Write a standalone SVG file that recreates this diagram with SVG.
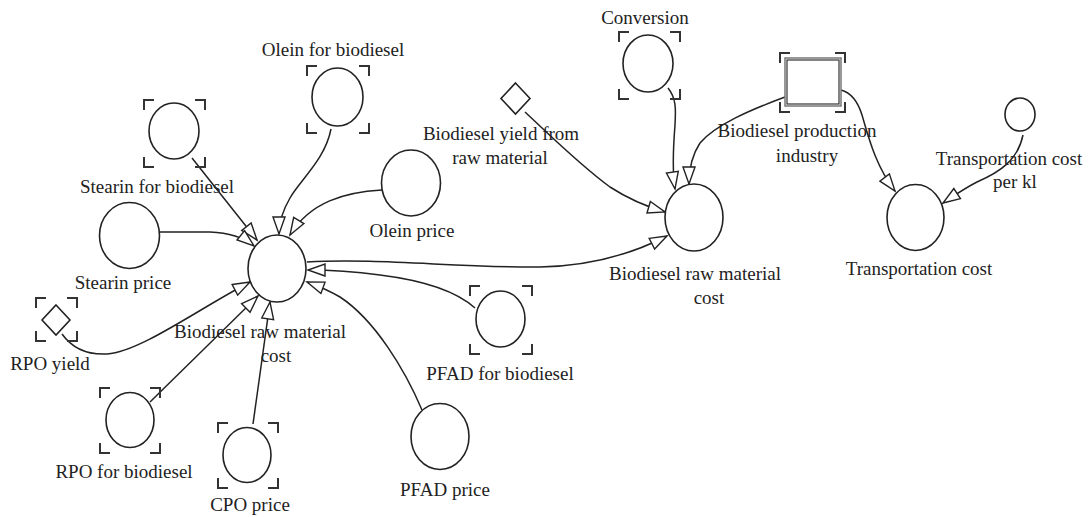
<svg xmlns="http://www.w3.org/2000/svg" width="1092" height="517" viewBox="0 0 1092 517">
  <defs>
    <style>
      .nd { fill: #fff; stroke: #222; stroke-width: 1.6; }
      .br { fill: none; stroke: #333; stroke-width: 2; }
      .ln { fill: none; stroke: #222; stroke-width: 1.5; marker-end: url(#arr); }
      text { font-family: "Liberation Serif", "Times New Roman", serif; font-size: 19px; fill: #222; text-anchor: middle; }
    </style>
    <marker id="arr" markerUnits="userSpaceOnUse" markerWidth="22" markerHeight="16" refX="19" refY="8" orient="auto">
      <path d="M2,2 L19,8 L2,14 Z" fill="#fff" stroke="#222" stroke-width="1.4" stroke-linejoin="miter"/>
    </marker>
  </defs>
  <rect width="1092" height="517" fill="#fff"/>

  <!-- connectors -->
  <g id="connectors">
    <path class="ln" d="M192,158 L257,240"/>
    <path class="ln" d="M160,232 L210,232 Q238,233 254,246"/>
    <path class="ln" d="M62,334 C72,348 88,355 107,354 C140,352 200,308 250,282"/>
    <path class="ln" d="M150,402 L258,296"/>
    <path class="ln" d="M253,424 L270,302"/>
    <path class="ln" d="M331,129 C325,160 300,180 290,198 C283,210 279,220 279,234"/>
    <path class="ln" d="M382,190 C345,192 310,202 290,235"/>
    <path class="ln" d="M475,308 C455,290 420,280 380,275 C350,271 330,270 308,270"/>
    <path class="ln" d="M422,410 C405,370 375,320 340,297 C328,290 318,286 307,282"/>
    <path class="ln" d="M307,262 C380,258 460,268 540,267 C590,266 630,255 667,236"/>
    <path class="ln" d="M525,112 C555,140 580,165 610,187 C630,200 648,207 665,212"/>
    <path class="ln" d="M668,88 C676,98 676,108 675,125 C673,150 672,170 675,189"/>
    <path class="ln" d="M785,97 C750,110 715,125 700,143 C692,155 689,170 689,184"/>
    <path class="ln" d="M841,90 C852,93 858,102 862,115 C868,135 875,165 895,191"/>
    <path class="ln" d="M1023,135 C1018,160 1000,172 977,182 C965,188 955,195 943,203"/>
  </g>

  <!-- auxiliaries and constants -->
  <g id="stearin-for-biodiesel">
    <ellipse class="nd" cx="174" cy="131" rx="25" ry="28"/>
    <path class="br" d="M144,110 V100 H154 M195,100 H205 V110 M144,157 V167 H154 M195,167 H205 V157"/>
    <text x="157" y="193">Stearin for biodiesel</text>
  </g>
  <g id="stearin-price">
    <ellipse class="nd" cx="129.5" cy="235.5" rx="30" ry="33"/>
    <text x="123" y="289">Stearin price</text>
  </g>
  <g id="rpo-yield">
    <polygon class="nd" points="56,305 70,320 56,335 42,320"/>
    <path class="br" d="M36,308 V298 H46 M67,298 H77 V308 M36,331 V341 H46 M67,341 H77 V331"/>
    <text x="50" y="370">RPO yield</text>
  </g>
  <g id="rpo-for-biodiesel">
    <ellipse class="nd" cx="130" cy="420" rx="24" ry="27.5"/>
    <path class="br" d="M100,398 V388 H110 M150,388 H160 V398 M100,443 V453 H110 M150,453 H160 V443"/>
    <text x="124" y="478">RPO for biodiesel</text>
  </g>
  <g id="cpo-price">
    <ellipse class="nd" cx="247" cy="455" rx="24" ry="27.5"/>
    <path class="br" d="M218,433 V423 H228 M268,423 H278 V433 M218,478 V488 H228 M268,488 H278 V478"/>
    <text x="250" y="511">CPO price</text>
  </g>
  <g id="olein-for-biodiesel">
    <ellipse class="nd" cx="337.5" cy="97" rx="25.5" ry="29"/>
    <path class="br" d="M307,76 V66 H317 M359,66 H369 V76 M307,123 V133 H317 M359,133 H369 V123"/>
    <text x="333" y="56">Olein for biodiesel</text>
  </g>
  <g id="olein-price">
    <ellipse class="nd" cx="411" cy="183" rx="29.5" ry="33"/>
    <text x="412" y="237">Olein price</text>
  </g>
  <g id="biodiesel-raw-material-cost-left">
    <ellipse class="nd" cx="277" cy="268.5" rx="29" ry="33.5"/>
    <text x="260" y="338">Biodiesel raw material</text>
    <text x="276" y="362">cost</text>
  </g>
  <g id="pfad-for-biodiesel">
    <ellipse class="nd" cx="500.5" cy="319" rx="24.5" ry="28"/>
    <path class="br" d="M470,296 V286 H480 M522,286 H532 V296 M470,344 V354 H480 M522,354 H532 V344"/>
    <text x="500" y="380">PFAD for biodiesel</text>
  </g>
  <g id="pfad-price">
    <ellipse class="nd" cx="440" cy="436.5" rx="29" ry="33"/>
    <text x="445" y="496">PFAD price</text>
  </g>
  <g id="biodiesel-yield-from-raw-material">
    <polygon class="nd" points="515.5,83 530,98.5 515.5,114 501,98.5"/>
    <text x="501" y="140">Biodiesel yield from</text>
    <text x="500" y="164">raw material</text>
  </g>
  <g id="conversion">
    <ellipse class="nd" cx="648" cy="63.5" rx="25" ry="28.5"/>
    <path class="br" d="M619,42 V32 H629 M670,32 H680 V42 M619,89 V99 H629 M670,99 H680 V89"/>
    <text x="645" y="24">Conversion</text>
  </g>
  <g id="biodiesel-raw-material-cost-right">
    <ellipse class="nd" cx="694" cy="217.5" rx="29" ry="33.5"/>
    <text x="695" y="280">Biodiesel raw material</text>
    <text x="709" y="304">cost</text>
  </g>
  <g id="biodiesel-production-industry">
    <rect x="785" y="58" width="56" height="48" fill="#fff" stroke="#777" stroke-width="1.5"/>
    <rect x="787" y="60" width="52" height="44" fill="none" stroke="#333" stroke-width="1.2"/>
    <path class="br" d="M780,63 V53 H790 M835,53 H845 V63 M780,102 V112 H790 M835,112 H845 V102"/>
    <text x="797" y="137">Biodiesel production</text>
    <text x="807" y="162">industry</text>
  </g>
  <g id="transportation-cost">
    <ellipse class="nd" cx="915.5" cy="217.5" rx="28.5" ry="33"/>
    <text x="919" y="275">Transportation cost</text>
  </g>
  <g id="transportation-cost-per-kl">
    <ellipse class="nd" cx="1020" cy="114.5" rx="15" ry="16.5"/>
    <text x="1009" y="165">Transportation cost</text>
    <text x="1015" y="188">per kl</text>
  </g>
</svg>
